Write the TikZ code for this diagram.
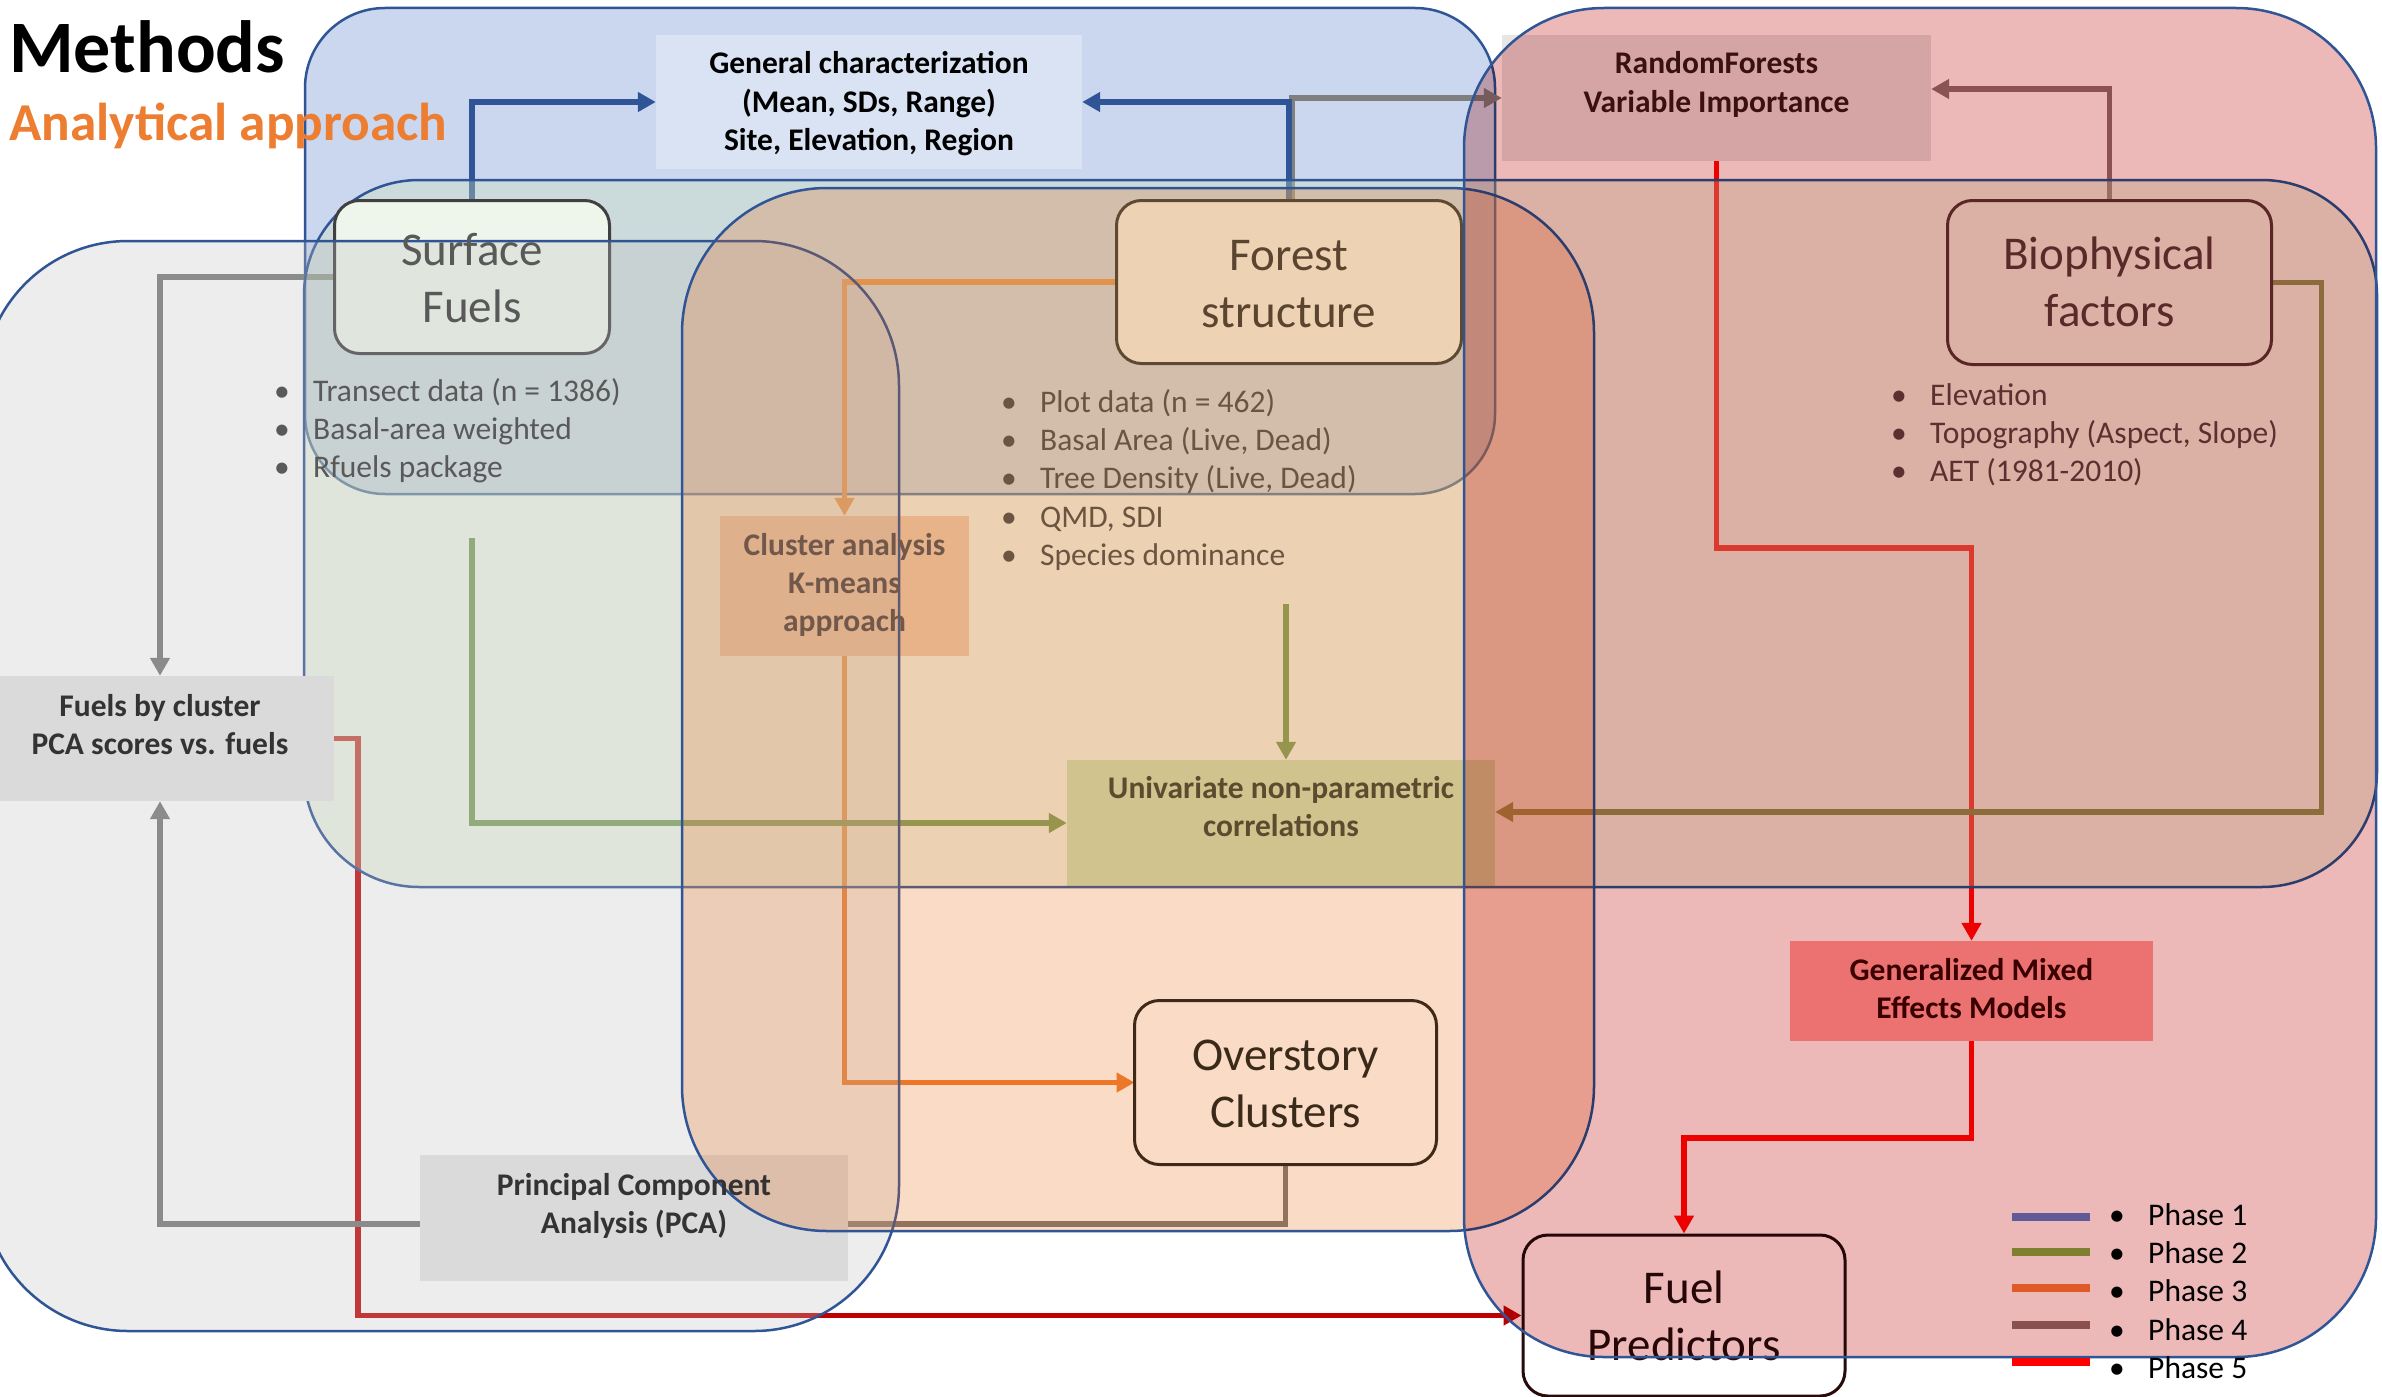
\documentclass[tikz,border=0pt]{standalone}
\usepackage{fontspec}
\setmainfont{Carlito}
\usetikzlibrary{arrows.meta}
\definecolor{bordblue}{HTML}{2F5597}
\definecolor{blobblue}{HTML}{CAD7EE}
\definecolor{blobtwo}{HTML}{CEE2B8}
\definecolor{blobthree}{HTML}{EA660E}
\definecolor{greyblob}{HTML}{C1C1C1}
\definecolor{pinkblob}{HTML}{ECB8B8}
\definecolor{gcfill}{HTML}{DAE3F3}
\definecolor{rffill}{HTML}{E7E6E6}
\definecolor{clfill}{HTML}{F6C0AD}
\definecolor{uvfill}{HTML}{C5E0B4}
\definecolor{gmfill}{HTML}{FF9F9F}
\definecolor{greybox}{HTML}{DADADA}
\definecolor{sffill}{HTML}{EEF5EA}
\definecolor{sfborder}{HTML}{404040}
\definecolor{sftext}{HTML}{595959}
\definecolor{fsfill}{HTML}{EDD3B3}
\definecolor{fsborder}{HTML}{5E4A33}
\definecolor{fstext}{HTML}{5B4530}
\definecolor{fslist}{HTML}{6B5540}
\definecolor{bioborder}{HTML}{5A2525}
\definecolor{biotext}{HTML}{5A2A2A}
\definecolor{biolist}{HTML}{5A3030}
\definecolor{osborder}{HTML}{3F2A1A}
\definecolor{ostext}{HTML}{3A2A1A}
\definecolor{fptext}{HTML}{2A0A0A}
\definecolor{gmtext}{HTML}{3A0000}
\definecolor{uvtext}{HTML}{5E4A2E}
\definecolor{cltext}{HTML}{72584A}
\definecolor{rftext}{HTML}{3A1010}
\definecolor{darktext}{HTML}{333333}
\definecolor{cblue}{HTML}{2F5597}
\definecolor{cgrey}{HTML}{767676}
\definecolor{cgreytop}{HTML}{7F7F7F}
\definecolor{cfour}{HTML}{967272}
\definecolor{cfive}{HTML}{FF0000}
\definecolor{cfivedark}{HTML}{C00000}
\definecolor{cthree}{HTML}{ED7D31}
\definecolor{ctwo}{HTML}{548235}
\definecolor{ctwob}{HTML}{7D6E1E}
\definecolor{legone}{HTML}{605A98}
\definecolor{legtwo}{HTML}{7F7F30}
\definecolor{legthree}{HTML}{E05A28}
\definecolor{legfour}{HTML}{8A5050}
\definecolor{legfive}{HTML}{FF0000}
\definecolor{titleorange}{HTML}{ED7D31}
\newcommand{\FontBig}{\fontsize{47}{57}\selectfont}
\newcommand{\FontSm}{\fontsize{31.5}{38.4}\selectfont}
\newcommand{\FontSmB}{\fontsize{31.5}{38.4}\selectfont\bfseries}
\newcommand{\MLines}[1]{\begin{tabular}[t]{@{}c@{}}#1\end{tabular}}
\newcommand{\LLines}[1]{\begin{tabular}[t]{@{}l@{}}#1\end{tabular}}
\newcommand{\Bul}{\makebox[39pt][l]{\textbullet}}
\begin{document}
\begin{tikzpicture}[x=1pt,y=-1pt,
  blobline/.style={draw=bordblue, line width=2.5pt},
  rbox/.style={rectangle, rounded corners=25pt, line width=3pt, inner sep=0pt},
  flat/.style={rectangle, inner sep=0pt, draw=none},
  txt/.style={inner sep=0pt, anchor=base},
  lst/.style={inner sep=0pt, anchor=base west, font=\FontSm},
  con/.style={line width=5.5pt},
  arr/.style={-{Triangle[length=18pt,width=19pt]}},
]
\useasboundingbox (0,0) rectangle (2382,1397);
\fill[white] (0,0) rectangle (2382,1397);

% ---------- blue blob (bottom layer)
\fill[blobblue, rounded corners=80pt] (305,8) rectangle (1495,494);
\draw[blobline, rounded corners=80pt] (305,8) rectangle (1495,494);

% ---------- box shapes under the translucent blobs
\node[flat, fill=gcfill, minimum width=426pt, minimum height=134pt] (gc) at (869,102) {};
\node[flat, fill=rffill, minimum width=429pt, minimum height=126pt] (rf) at (1716.5,98) {};
\node[flat, fill=clfill, minimum width=249pt, minimum height=140pt] (cl) at (844.5,586) {};
\node[flat, fill=uvfill, minimum width=428pt, minimum height=126pt] (uv) at (1281,823) {};
\node[flat, fill=gmfill, minimum width=363pt, minimum height=100pt] (gmem) at (1971.5,991) {};
\node[rbox, draw=fptext, fill=white, minimum width=322pt, minimum height=161pt] (fp) at (1684,1315.5) {};
\node[txt, font=\FontBig, text=fptext] (fpt) at (1684,1303) {\MLines{Fuel\\Predictors}};

% shapes declared now, drawn later in their own layer
\path (472,277) node[rbox, minimum width=272pt, minimum height=150pt] (sf) {};
\path (1289,282) node[rbox, minimum width=342pt, minimum height=160pt] (fs) {};
\path (2109.5,282.5) node[rbox, minimum width=321pt, minimum height=161pt] (bio) {};
\path (1285.5,1082.5) node[rbox, minimum width=299pt, minimum height=161pt] (os) {};
\path (160,738.5) node[flat, minimum width=348pt, minimum height=125pt] (fbc) {};
\path (634,1218) node[flat, minimum width=428pt, minimum height=126pt] (pca) {};

% free ends of connectors
\coordinate (g1) at (472,538);
\coordinate (g2) at (1286,604);

% ---------- connectors
\draw[con, cgreytop, line width=6pt, arr] ([xshift=3pt]fs.north) |- (rf.west);
\draw[con, cblue, line width=6pt, arr] (sf.north) |- (gc.west);
\draw[con, cblue, line width=6pt, arr] (fs.north) |- (gc.east);
\draw[con, cfour, arr] (bio.north) |- ([yshift=9pt]rf.east);
\draw[con, cfive, arr] (rf.south) -- ++(0,387) -| (gmem.north);
\draw[con, cfive, arr] (gmem.south) -- ++(0,97) -| (fp.north);
\draw[con, cfivedark, arr] (fbc.east) -- ++(24,0) |- (fp.west);
\draw[con, cgrey, arr] (sf.west) -| (fbc.north);
\draw[con, cgrey, arr] ([yshift=-6pt]pca.west) -| (fbc.south);
\draw[con, cgrey] (os.south) |- ([yshift=-6pt]pca.east);
\draw[con, cthree, arr] (fs.west) -| (cl.north);
\draw[con, cthree, arr] (cl.south) |- (os.west);
\draw[con, ctwo, arr] (g1) |- (uv.west);
\draw[con, ctwo, arr] (g2) -- (g2 |- uv.north);
\draw[con, ctwob, arr] (bio.east) -- ++(50,0) |- ([yshift=11pt]uv.east);

% ---------- translucent blobs
\fill[blobtwo, fill opacity=0.35, rounded corners=115pt] (304,180) rectangle (2377,887);
\draw[blobline, rounded corners=115pt] (304,180) rectangle (2377,887);

% surface fuels box sits between the green and the grey blob
\draw[fill=sffill, draw=sfborder, line width=3pt, rounded corners=25pt] (sf.north west) rectangle (sf.south east);

\fill[greyblob, fill opacity=0.29, rounded corners=145pt] (-17,241) rectangle (899,1331);
\draw[blobline, rounded corners=145pt] (-17,241) rectangle (899,1331);

% boxes above the grey blob
\fill[greybox] (fbc.north west) rectangle (fbc.south east);
\fill[greybox] (pca.north west) rectangle (pca.south east);

\fill[blobthree, fill opacity=0.236, rounded corners=145pt] (682,188) rectangle (1594,1231);
\draw[blobline, rounded corners=145pt] (682,188) rectangle (1594,1231);

\begin{scope}[blend mode=multiply]
\fill[pinkblob, rounded corners=140pt] (1464,8) rectangle (2376,1357);
\end{scope}
\draw[blobline, rounded corners=140pt] (1464,8) rectangle (2376,1357);

% ---------- boxes on top of the blobs
\draw[fill=fsfill, draw=fsborder, line width=3pt, rounded corners=25pt] (fs.north west) rectangle (fs.south east);
\draw[draw=bioborder, line width=3pt, rounded corners=25pt] (bio.north west) rectangle (bio.south east);
\draw[draw=osborder, line width=3pt, rounded corners=25pt] (os.north west) rectangle (os.south east);

% ---------- texts
\node[txt, font=\FontSmB] (gct) at (869,74) {\MLines{General characterization\\(Mean, SDs, Range)\\Site, Elevation, Region}};
\node[txt, font=\FontSmB, text=rftext] (rft) at (1716.5,74) {\MLines{RandomForests\\Variable Importance}};
\node[txt, font=\FontBig, text=sftext] (sft) at (472,265) {\MLines{Surface\\Fuels}};
\node[lst, text=sftext] (sfl) at (274,401) {\LLines{\Bul Transect data (n = 1386)\\\Bul Basal-area weighted\\\Bul Rfuels package}};
\node[txt, font=\FontBig, text=fstext] (fst) at (1289,270) {\MLines{Forest\\structure}};
\node[lst, text=fslist] (fsl) at (1001,412) {\LLines{\Bul Plot data (n = 462)\\\Bul Basal Area (Live, Dead)\\\Bul Tree Density (Live, Dead)\\\Bul QMD, SDI\\\Bul Species dominance}};
\node[txt, font=\FontBig, text=biotext] (biot) at (2109.5,269) {\MLines{Biophysical\\factors}};
\node[lst, text=biolist] (biol) at (1891,405) {\LLines{\Bul Elevation\\\Bul Topography (Aspect, Slope)\\\Bul AET (1981-2010)}};
\node[txt, font=\FontSmB, text=cltext] (clt) at (844.5,555) {\MLines{Cluster analysis\\K-means\\approach}};
\node[txt, font=\FontSmB, text=uvtext] (uvt) at (1281,798) {\MLines{Univariate non-parametric\\correlations}};
\node[txt, font=\FontSmB, text=gmtext] (gmt) at (1971.5,980) {\MLines{Generalized Mixed\\Effects Models}};
\node[txt, font=\FontBig, text=ostext] (ost) at (1285.5,1070) {\MLines{Overstory\\Clusters}};
\node[txt, font=\FontSmB, text=darktext] (fbct) at (160,716) {\MLines{Fuels by cluster\\PCA scores vs. fuels}};
\node[txt, font=\FontSmB, text=darktext] (pcat) at (634,1195) {\MLines{Principal Component\\Analysis (PCA)}};

% ---------- legend
\draw[line width=8pt, legone] (2012,1217) -- (2090,1217);
\draw[line width=8pt, legtwo] (2012,1252) -- (2090,1252);
\draw[line width=8pt, legthree] (2012,1288) -- (2090,1288);
\draw[line width=8pt, legfour] (2012,1325) -- (2090,1325);
\draw[line width=8pt, legfive] (2012,1362) -- (2090,1362);
\node[lst] (legend) at (2109,1225) {\LLines{\Bul Phase 1\\\Bul Phase 2\\\Bul Phase 3\\\Bul Phase 4\\\Bul Phase 5}};

% ---------- title
\node[inner sep=0pt, anchor=base west, font=\fontsize{74}{88}\selectfont\bfseries] (title) at (9,72) {Methods};
\node[inner sep=0pt, anchor=base west, font=\fontsize{53.3}{64}\selectfont\bfseries, text=titleorange] (subtitle) at (9,140) {Analytical approach};
\end{tikzpicture}
\end{document}
